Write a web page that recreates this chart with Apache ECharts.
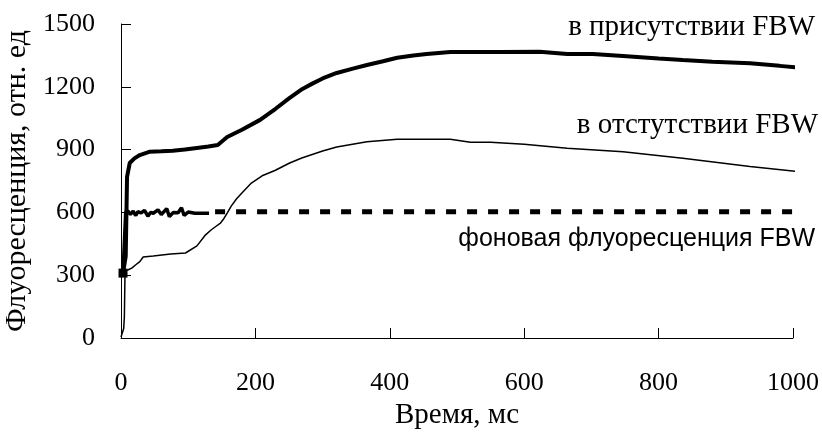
<!DOCTYPE html>
<html>
<head>
<meta charset="utf-8">
<script src="https://cdn.jsdelivr.net/npm/echarts@6/dist/echarts.min.js"></script>
<style>html,body{margin:0;padding:0;background:#fff;}#c{width:822px;height:436px;}</style>
</head>
<body>
<div id="c"></div>
<script>
// Data
const xTicks = [0, 200, 400, 600, 800, 1000];
const yTicks = [0, 300, 600, 900, 1200, 1500];

const withTime = [3, 7, 9, 13, 20, 28, 43, 60, 77, 95, 113, 130, 144, 158, 180, 207, 230, 251, 270, 284, 300, 321, 345, 366, 390, 411, 435, 455, 490, 530, 564, 623, 664, 702, 747, 800, 836, 880, 936, 980, 1016];
const withVals = [310, 390, 770, 836, 858, 874, 890, 892, 895, 900, 908, 915, 922, 960, 995, 1042, 1095, 1147, 1190, 1214, 1240, 1266, 1287, 1304, 1322, 1339, 1350, 1357, 1366, 1366, 1366, 1368, 1357, 1357, 1347, 1335, 1328, 1320, 1312, 1300, 1289];

const withoutTime = [0, 2, 4, 5, 6, 10, 16, 22, 28, 33, 48, 74, 96, 113, 125, 134, 142, 148, 153, 158, 164, 172, 182, 194, 210, 229, 251, 269, 300, 321, 366, 411, 490, 520, 550, 600, 664, 747, 836, 936, 1016];
const withoutVals = [5, 5, 45, 100, 320, 325, 334, 350, 365, 387, 392, 401, 406, 440, 490, 516, 535, 549, 570, 597, 630, 665, 700, 740, 775, 800, 836, 860, 893, 912, 938, 949, 949, 935, 935, 925, 906, 890, 859, 819, 792];

const bgNoisyTime = [3, 7, 10, 14, 18, 22, 25, 30, 35, 40, 44, 48, 55, 60, 64, 68, 72, 78, 85, 90, 94, 100, 110, 131];
const bgNoisyVals = [310, 600, 608, 590, 606, 585, 603, 598, 610, 582, 600, 596, 612, 590, 604, 618, 580, 600, 598, 622, 585, 602, 596, 596];
const bgTime = [140, 1012];
const bgVals = [603, 603];

const labelWith = 'в присутствии FBW';
const labelWithout = 'в отстутствии FBW';
const labelBg = 'фоновая флуоресценция FBW';
const xName = 'Время, мс';
const yName = 'Флуоресценция, отн. ед';

const zip = (a, b) => a.map((t, i) => [t, b[i]]);
const SERIF = "'Liberation Serif', 'Times New Roman', serif";
const SANS = "'Liberation Sans', Arial, sans-serif";

const chart = echarts.init(document.getElementById('c'), null, {renderer: 'canvas'});
chart.setOption({
  animation: false,
  backgroundColor: '#fff',
  grid: {left: 121, right: 29, top: 24, bottom: 98, containLabel: false, outerBoundsMode: 'none'},
  xAxis: {
    type: 'value', min: xTicks[0], max: xTicks[xTicks.length - 1], interval: 200,
    name: xName, nameLocation: 'middle', nameGap: 56,
    nameTextStyle: {fontFamily: SERIF, fontSize: 29, color: '#000'},
    axisLine: {show: true, lineStyle: {color: '#000', width: 1}},
    axisTick: {show: true, inside: true, length: 10, lineStyle: {color: '#000'}},
    axisLabel: {fontFamily: SERIF, fontSize: 26, color: '#000', margin: 32, formatter: v => String(v)},
    splitLine: {show: false}
  },
  yAxis: {
    type: 'value', min: yTicks[0], max: yTicks[yTicks.length - 1], interval: 300,
    name: yName, nameLocation: 'middle', nameGap: 84, nameRotate: 90,
    nameTextStyle: {fontFamily: SERIF, fontSize: 30, color: '#000'},
    axisLine: {show: true, lineStyle: {color: '#000', width: 1}},
    axisTick: {show: true, inside: true, length: 10, lineStyle: {color: '#000'}},
    axisLabel: {fontFamily: SERIF, fontSize: 26, color: '#000', margin: 26, formatter: v => String(v)},
    splitLine: {show: false}
  },
  series: [
    {
      type: 'line', name: labelWithout, data: zip(withoutTime, withoutVals),
      showSymbol: false, clip: false, lineStyle: {color: '#000', width: 1.5}
    },
    {
      type: 'line', name: labelBg + ' (start)', data: zip(bgNoisyTime, bgNoisyVals),
      clip: false, symbolSize: 9,
      symbol: (v, p) => p.dataIndex === 0 ? 'rect' : 'none',
      itemStyle: {color: '#000'},
      lineStyle: {color: '#000', width: 3.5}
    },
    {
      type: 'line', name: labelBg, data: zip(bgTime, bgVals),
      showSymbol: false, clip: false,
      lineStyle: {color: '#000', width: 5, type: [10, 11]}
    },
    {
      type: 'line', name: labelWith, data: zip(withTime, withVals),
      showSymbol: false, clip: false, lineStyle: {color: '#000', width: 4}
    }
  ],
  graphic: [
    {type: 'text', right: 7, top: 13, style: {text: labelWith, font: "29px " + SERIF, fill: '#000'}},
    {type: 'text', right: 4, top: 111, style: {text: labelWithout, font: "29px " + SERIF, fill: '#000'}},
    {type: 'text', right: 7, top: 227, style: {text: labelBg, font: "25px " + SANS, fill: '#000'}}
  ]
});
</script>
</body>
</html>
